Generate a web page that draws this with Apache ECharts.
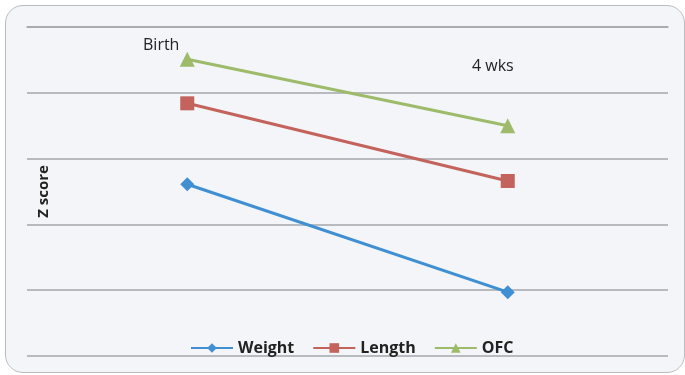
<!DOCTYPE html>
<html>
<head>
<meta charset="utf-8">
<script src="https://cdn.jsdelivr.net/npm/echarts@6/dist/echarts.min.js"></script>
<style>
    html, body { margin: 0; padding: 0; background: #ffffff; }
    #frame {
        position: absolute; left: 5px; top: 5px; width: 678px; height: 366px;
        border: 1px solid #b9bdc2; border-radius: 18px; background: #f3f5f8;
    }
    #chart { position: absolute; left: 0; top: 0; width: 685px; height: 375px; }
</style>
</head>
<body>
<div id="frame"></div>
<div id="chart"></div>
<script>
// categories (time points)
const timePoints = ['Birth', '4 wks']
// Z score values
const weight = [-2.39, -4.03]
const length = [-1.16, -2.34]
const ofc = [-0.49, -1.5]

const chart = echarts.init(document.getElementById('chart'))
const font = 'Open Sans, DejaVu Sans, sans-serif'

chart.setOption({
    backgroundColor: 'transparent',
    grid: { left: 27, right: 17, top: 27, bottom: 19 },
    legend: {
        bottom: 14,
        left: 185,
        itemGap: 18,
        itemWidth: 42,
        itemHeight: 12,
        textStyle: { fontFamily: font, fontSize: 16, fontWeight: 700, color: '#222' },
        data: ['Weight', 'Length', 'OFC']
    },
    xAxis: {
        type: 'category',
        data: timePoints,
        boundaryGap: true,
        axisLine: { lineStyle: { color: '#a3a7ac', width: 1.5 } },
        axisTick: { show: false },
        axisLabel: { show: false }
    },
    yAxis: {
        type: 'value',
        min: -5,
        max: 0,
        interval: 1,
        name: 'Z score',
        nameLocation: 'middle',
        nameGap: -24,
        nameTextStyle: { fontFamily: font, fontSize: 15, fontWeight: 700, color: '#222' },
        axisLine: { show: false },
        axisTick: { show: false },
        axisLabel: { show: false },
        splitLine: { lineStyle: { color: '#a3a7ac', width: 1.5 } }
    },
    graphic: [
        {
            type: 'text', left: 143, top: 37,
            style: { text: timePoints[0], fontFamily: font, fontSize: 16, fill: '#222' }
        },
        {
            type: 'text', left: 472, top: 58,
            style: { text: timePoints[1], fontFamily: font, fontSize: 16, fill: '#222' }
        }
    ],
    series: [
        {
            name: 'Weight', type: 'line', data: weight,
            symbol: 'diamond', symbolSize: 14,
            lineStyle: { width: 3 },
            itemStyle: { color: '#3f8fd2' }
        },
        {
            name: 'Length', type: 'line', data: length,
            symbol: 'rect', symbolSize: 14,
            lineStyle: { width: 3 },
            itemStyle: { color: '#c4625c' }
        },
        {
            name: 'OFC', type: 'line', data: ofc,
            symbol: 'triangle', symbolSize: 15,
            lineStyle: { width: 3 },
            itemStyle: { color: '#9dbb6a' }
        }
    ]
})
</script>
</body>
</html>
